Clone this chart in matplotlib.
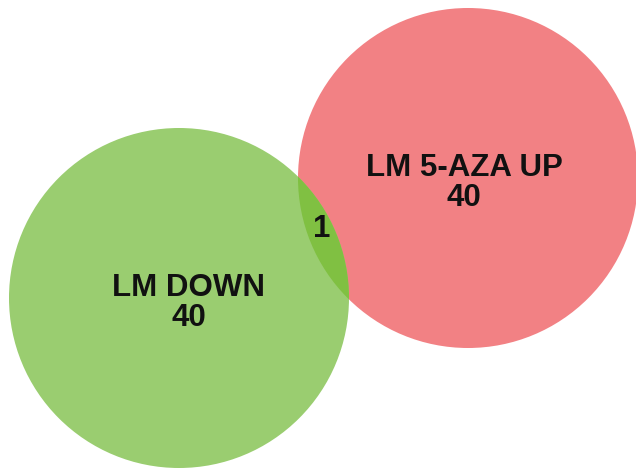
import matplotlib.pyplot as plt
from matplotlib.patches import Circle

set_names = ["LM DOWN", "LM 5-AZA UP"]
set_only = [40, 40]
overlap = 1

plt.rcParams["font.family"] = ["Liberation Sans", "DejaVu Sans"]

fig = plt.figure(figsize=(6.36, 4.73), dpi=100)
ax = fig.add_axes([0, 0, 1, 1])
ax.set_xlim(0, 636)
ax.set_ylim(473, 0)
ax.set_aspect("equal")
ax.axis("off")

# circle centres / radius in pixel space
green_c, red_c, r = (179, 298), (468, 178), 170

red = Circle(red_c, r, facecolor="#f28184", edgecolor="none")
green = Circle(green_c, r, facecolor="#9acd70", edgecolor="none")
ax.add_patch(red)
ax.add_patch(green)

# overlap region: green circle clipped to the red one
both = Circle(green_c, r, facecolor="#80c042", edgecolor="none")
ax.add_patch(both)
both.set_clip_path(Circle(red_c, r, transform=ax.transData))

txt = dict(ha="center", va="center", fontsize=22.5, fontweight="bold",
           color="#111111", linespacing=1.0)
ax.text(189, 303, f"{set_names[0]}\n{set_only[0]}", **txt)
ax.text(464, 183, f"{set_names[1]}\n{set_only[1]}", **txt)
ax.text(322, 229, str(overlap), **txt)

fig.savefig("out.png", dpi=100)
